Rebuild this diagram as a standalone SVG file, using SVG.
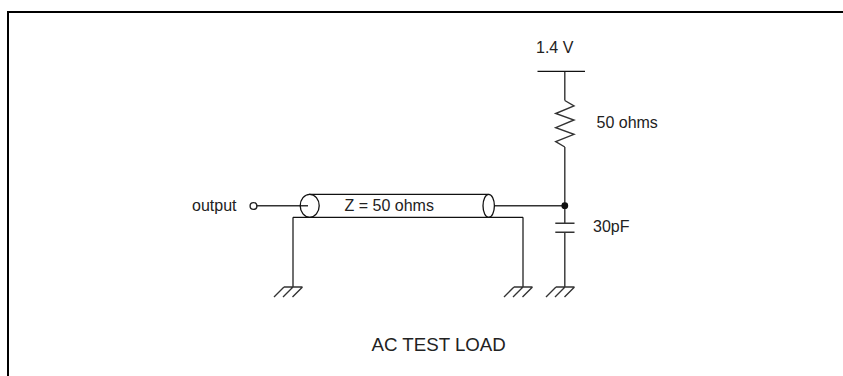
<svg xmlns="http://www.w3.org/2000/svg" width="843" height="376" viewBox="0 0 843 376">
<style>
text{font-family:"Liberation Sans",Arial,sans-serif;font-size:16px;fill:#222}
.w{fill:none;stroke:#333;stroke-width:1.4}
.b{fill:none;stroke:#111;stroke-width:1.3}
</style>
<defs>
<path id="gnd" class="w" d="M-9 0H9.500M-9 0L-19 10M0 0L-10 10M9.500 0L-0.500 10"/>
</defs>
<rect width="843" height="376" fill="#fff"/>
<path d="M8 376V12H843" fill="none" stroke="#000" stroke-width="2"/>
<g id="connectors">
<path class="w" d="M257 205.700H308M494.700 205.700H565M564.800 72V100.500M564.800 147V223M564.800 232V287"/>
<path class="w" d="M293 217.300V287M523 217.300V287"/>
</g>
<g id="terminal"><circle cx="253.500" cy="206" r="3.400" fill="#fff" stroke="#222" stroke-width="1.400"/><text x="192" y="211">output</text></g>
<g id="cable">
<path class="b" d="M309 194.300H488.500M293 217.300H523"/>
<ellipse cx="309.700" cy="205.800" rx="9.500" ry="11.500" class="b"/>
<ellipse cx="488.700" cy="205.800" rx="5.700" ry="11.500" class="b"/>
<text x="344.500" y="211">Z = 50 ohms</text>
</g>
<g id="supply"><path class="b" d="M537.500 71.300H585"/><text x="536" y="53.300">1.4 V</text></g>
<g id="resistor"><path class="w" d="M564.800 100.500L574 106L555.700 113.500L574 120L555.700 127.700L574 134.300L555.700 141.700L564.800 147"/><text x="596.500" y="127.700">50 ohms</text></g>
<g id="junction"><circle cx="564.800" cy="205.700" r="3.400" fill="#111"/></g>
<g id="capacitor"><path class="w" d="M555.300 223.300H574.500M555.300 232.300H574.500"/><text x="593" y="232.300">30pF</text></g>
<g id="grounds"><use href="#gnd" x="293" y="287"/><use href="#gnd" x="523" y="287"/><use href="#gnd" x="565" y="287"/></g>
<text x="371.500" y="350.700" style="font-size:18.700px">AC TEST LOAD</text>
</svg>
